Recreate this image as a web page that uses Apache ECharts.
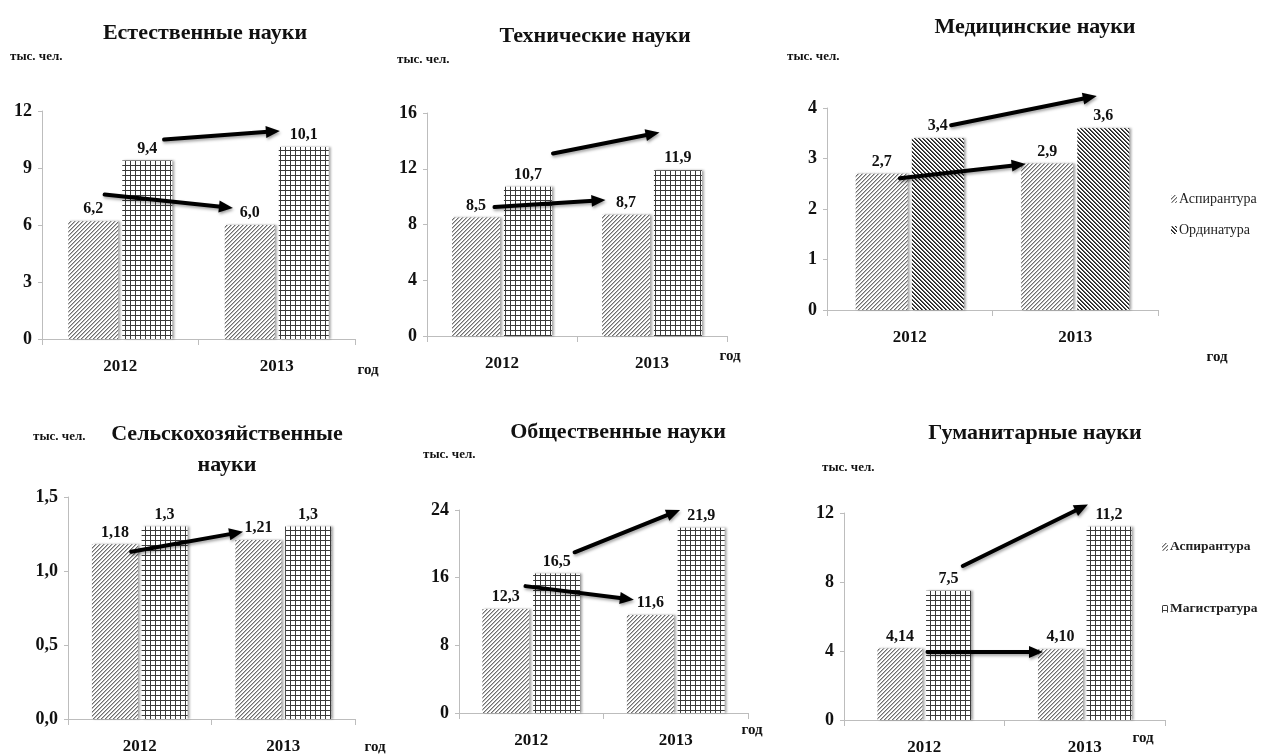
<!DOCTYPE html>
<html>
<head>
<meta charset="utf-8">
<script src="https://cdn.jsdelivr.net/npm/echarts@6/dist/echarts.min.js"></script>
<style>
  html, body { margin: 0; padding: 0; background: #ffffff; }
  #chart { width: 1264px; height: 756px; }
</style>
</head>
<body>
<div id="chart"></div>
<script>
// Years on every horizontal axis
const years = ['2012', '2013'];

// Enrolment, thousand persons
const naturalAsp = [6.2, 6.0];
const naturalMag = [9.4, 10.1];
const techAsp = [8.5, 8.7];
const techMag = [10.7, 11.9];
const medAsp = [2.7, 2.9];
const medOrd = [3.4, 3.6];
const agriAsp = [1.18, 1.21];
const agriMag = [1.3, 1.3];
const socialAsp = [12.3, 11.6];
const socialMag = [16.5, 21.9];
const humAsp = [4.14, 4.10];
const humMag = [7.5, 11.2];

// Value-axis tick labels
const naturalTicks = [0, 3, 6, 9, 12];
const techTicks = [0, 4, 8, 12, 16];
const medTicks = [0, 1, 2, 3, 4];
const agriTicks = [0, 0.5, 1.0, 1.5];
const socialTicks = [0, 8, 16, 24];
const humTicks = [0, 4, 8, 12];

// Trend arrows: [start offset in category steps, start value, end offset, end value]
const naturalArrows = [[-0.10, 7.6, 0.72, 6.9], [0.28, 10.5, 1.02, 10.95]];
const techArrows = [[-0.05, 9.25, 0.69, 9.76], [0.34, 13.1, 1.05, 14.6]];
const medArrows = [[-0.06, 2.61, 0.70, 2.89], [0.25, 3.66, 1.13, 4.24]];
const agriArrows = [[-0.06, 1.13, 0.72, 1.265]];
const socialArrows = [[-0.04, 15.0, 0.71, 13.4], [0.30, 19.0, 1.03, 24.0]];
const humArrows = [[0.02, 3.94, 0.74, 3.94], [0.24, 8.93, 1.02, 12.5]];

const SERIF = "'Liberation Serif', 'Times New Roman', serif";

// Hatch fills drawn pixel by pixel on small tiles
function tile(size, paint) {
  const c = document.createElement('canvas');
  c.width = size; c.height = size;
  const g = c.getContext('2d');
  g.fillStyle = '#ffffff';
  g.fillRect(0, 0, size, size);
  paint(g, size);
  return { image: c, repeat: 'repeat' };
}
const aspFill = tile(4, (g, n) => {
  for (let i = 0; i < n; i++) {
    g.fillStyle = '#6e6e6e';
    g.fillRect(n - 1 - i, i, 1, 1);
    g.fillStyle = '#b8b8b8';
    g.fillRect((n - i) % n, i, 1, 1);
  }
});
const magFill = tile(5, (g, n) => {
  g.fillStyle = '#3a3a3a';
  g.fillRect(0, 0, n, 1);
  g.fillRect(0, 0, 1, n);
});
const ordFill = tile(4, (g, n) => {
  for (let i = 0; i < n; i++) {
    g.fillStyle = '#1e1e1e';
    g.fillRect(i, i, 1, 1);
    g.fillStyle = '#5a5a5a';
    g.fillRect((i + 1) % n, i, 1, 1);
  }
});

const fills = { 'Аспирантура': aspFill, 'Магистратура': magFill, 'Ординатура': ordFill };

const panels = [
  { title: 'Естественные науки', asp: naturalAsp, second: naturalMag, secondName: 'Магистратура',
    ticks: naturalTicks, tickDec: 0, dec: [1, 1], arrows: naturalArrows,
    grid: { left: 42, top: 111, width: 313, height: 228 }, barWidth: 50,
    titlePos: [205, 33], unitPos: [10, 57], yearPos: [368, 370] },
  { title: 'Технические науки', asp: techAsp, second: techMag, secondName: 'Магистратура',
    ticks: techTicks, tickDec: 0, dec: [1, 1], arrows: techArrows,
    grid: { left: 427, top: 113, width: 300, height: 223 }, barWidth: 48,
    titlePos: [595, 36], unitPos: [397, 60], yearPos: [730, 356] },
  { title: 'Медицинские науки', asp: medAsp, second: medOrd, secondName: 'Ординатура',
    ticks: medTicks, tickDec: 0, dec: [1, 1], arrows: medArrows,
    grid: { left: 827, top: 108, width: 331, height: 202 }, barWidth: 52,
    titlePos: [1035, 27], unitPos: [787, 57], yearPos: [1217, 357] },
  { title: 'Сельскохозяйственные\nнауки', asp: agriAsp, second: agriMag, secondName: 'Магистратура',
    ticks: agriTicks, tickDec: 1, dec: [2, 1], arrows: agriArrows,
    grid: { left: 68, top: 497, width: 287, height: 222 }, barWidth: 46,
    titlePos: [227, 450], unitPos: [33, 437], yearPos: [375, 747] },
  { title: 'Общественные науки', asp: socialAsp, second: socialMag, secondName: 'Магистратура',
    ticks: socialTicks, tickDec: 0, dec: [1, 1], arrows: socialArrows,
    grid: { left: 459, top: 510, width: 289, height: 203 }, barWidth: 47,
    titlePos: [618, 432], unitPos: [423, 455], yearPos: [752, 730] },
  { title: 'Гуманитарные науки', asp: humAsp, second: humMag, secondName: 'Магистратура',
    ticks: humTicks, tickDec: 0, dec: [2, 1], arrows: humArrows,
    grid: { left: 844, top: 513, width: 321, height: 207 }, barWidth: 45,
    titlePos: [1035, 433], unitPos: [822, 468], yearPos: [1143, 738] }
];

const comma = (v, d) => Number(v).toFixed(d).replace('.', ',');

function renderArrow(params, api) {
  const fx0 = api.value(0), y0 = api.value(1), fx1 = api.value(2), y1 = api.value(3);
  const a = api.coord([0, y0]);
  const b = api.coord([1, y1]);
  const step = b[0] - a[0];
  const sx = a[0] + fx0 * step, sy = a[1];
  const ex = a[0] + fx1 * step, ey = b[1];
  const ang = Math.atan2(ey - sy, ex - sx);
  const head = 14, half = 6;
  const bx = ex - head * Math.cos(ang), by = ey - head * Math.sin(ang);
  const nx = -Math.sin(ang) * half, ny = Math.cos(ang) * half;
  const shadow = { shadowBlur: 3, shadowColor: 'rgba(0,0,0,0.35)', shadowOffsetX: 1, shadowOffsetY: 2 };
  return {
    type: 'group',
    children: [
      { type: 'line', shape: { x1: sx, y1: sy, x2: bx + Math.cos(ang) * 2, y2: by + Math.sin(ang) * 2 },
        style: Object.assign({ stroke: '#000', lineWidth: 4, lineCap: 'round' }, shadow) },
      { type: 'polygon', shape: { points: [[ex, ey], [bx + nx, by + ny], [bx - nx, by - ny]] },
        style: Object.assign({ fill: '#000' }, shadow) }
    ]
  };
}

const grid = [], xAxis = [], yAxis = [], series = [], graphic = [];
const axisGray = '#bdbdbd';

panels.forEach((p, i) => {
  grid.push(Object.assign({ containLabel: false }, p.grid));
  xAxis.push({
    type: 'category', gridIndex: i, data: years,
    axisLine: { lineStyle: { color: axisGray, width: 1 } },
    axisTick: { show: true, length: 6, lineStyle: { color: axisGray } },
    axisLabel: { color: '#111', fontFamily: SERIF, fontWeight: 'bold', fontSize: 17, margin: 19 }
  });
  const t = p.ticks;
  yAxis.push({
    type: 'value', gridIndex: i, min: t[0], max: t[t.length - 1], interval: t[1] - t[0],
    splitLine: { show: false },
    axisLine: { show: true, lineStyle: { color: axisGray, width: 1 } },
    axisTick: { show: true, length: 4, lineStyle: { color: axisGray } },
    axisLabel: { color: '#111', fontFamily: SERIF, fontWeight: 'bold', fontSize: 18, margin: 10,
      formatter: v => comma(v, p.tickDec) }
  });

  const barStyle = name => ({
    color: fills[name],
    shadowColor: 'rgba(0,0,0,0.35)', shadowBlur: 2, shadowOffsetX: 2, shadowOffsetY: 0
  });
  const labelFor = d => ({
    show: true, position: 'top', distance: 4, color: '#111',
    fontFamily: SERIF, fontWeight: 'bold', fontSize: 16,
    formatter: q => comma(q.value, d)
  });
  series.push({
    type: 'bar', name: 'Аспирантура', xAxisIndex: i, yAxisIndex: i, data: p.asp,
    barWidth: p.barWidth, itemStyle: barStyle('Аспирантура'), label: labelFor(p.dec[0]), z: 2
  });
  series.push({
    type: 'bar', name: p.secondName, xAxisIndex: i, yAxisIndex: i, data: p.second,
    barWidth: p.barWidth, barGap: '8%', itemStyle: barStyle(p.secondName), label: labelFor(p.dec[1]), z: 2
  });
  series.push({
    type: 'custom', name: 'trend', xAxisIndex: i, yAxisIndex: i, clip: false, silent: true, z: 5,
    dimensions: [
      { name: 'fx0', type: 'float' }, { name: 'y0', type: 'float' },
      { name: 'fx1', type: 'float' }, { name: 'y1', type: 'float' }, { name: 'cat', type: 'float' }
    ],
    encode: { x: 4, y: 1 },
    data: p.arrows.map(a => a.concat([0])),
    renderItem: renderArrow
  });

  const multi = p.title.indexOf('\n') >= 0;
  graphic.push({
    type: 'text', x: p.titlePos[0], y: p.titlePos[1], z: 10,
    style: { text: p.title, fill: '#111', font: 'bold 22px ' + SERIF,
      align: 'center', verticalAlign: 'middle', textAlign: 'center', textVerticalAlign: 'middle',
      lineHeight: multi ? 31 : 26 }
  });
  graphic.push({
    type: 'text', x: p.unitPos[0], y: p.unitPos[1], z: 10,
    style: { text: 'тыс. чел.', fill: '#111', font: 'bold 13px ' + SERIF,
      align: 'left', verticalAlign: 'middle', textAlign: 'left', textVerticalAlign: 'middle' }
  });
  graphic.push({
    type: 'text', x: p.yearPos[0], y: p.yearPos[1], z: 10,
    style: { text: 'год', fill: '#111', font: 'bold 15px ' + SERIF,
      align: 'center', verticalAlign: 'middle', textAlign: 'center', textVerticalAlign: 'middle' }
  });
});

const chart = echarts.init(document.getElementById('chart'), null, { renderer: 'canvas' });
chart.setOption({
  backgroundColor: '#ffffff',
  animation: false,
  grid, xAxis, yAxis, series, graphic,
  legend: [
    { orient: 'vertical', left: 1166, top: 187, itemGap: 17, itemWidth: 6, itemHeight: 8,
      data: ['Аспирантура', 'Ординатура'], selectedMode: false,
      textStyle: { color: '#222', fontFamily: SERIF, fontSize: 14, padding: [0, 0, 0, -3] } },
    { orient: 'vertical', left: 1157, top: 535, itemGap: 48, itemWidth: 6, itemHeight: 8,
      data: ['Аспирантура', 'Магистратура'], selectedMode: false,
      textStyle: { color: '#222', fontFamily: SERIF, fontWeight: 'bold', fontSize: 13.5, padding: [0, 0, 0, -3] } }
  ]
});
</script>
</body>
</html>
